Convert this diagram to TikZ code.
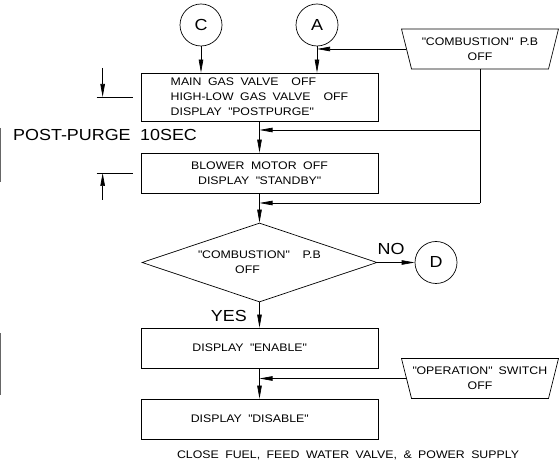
\documentclass[tikz,border=0pt]{standalone}
\usepackage{fontspec}
\setmainfont{Liberation Sans}[FakeStretch=1.12,WordSpace=1.9]
\usetikzlibrary{shapes.geometric,arrows.meta}
\newcommand{\qt}[1]{\textquotedbl#1\textquotedbl}
\tikzset{
  line/.style={line width=0.7bp},
  flow/.style={line, -{Triangle[length=13bp,width=4.5bp]}},
  txt/.style={font=\fontsize{11bp}{15bp}\selectfont},
  biglabel/.style={font=\fontsize{16bp}{18bp}\selectfont, inner sep=0pt},
  process/.style={draw, line, txt, rectangle, minimum width=237bp, minimum height=40bp, inner sep=2bp, align=center},
  decision/.style={draw, line, txt, diamond, aspect=3, minimum width=235bp, minimum height=79bp, inner sep=0pt, align=center},
  connector/.style={draw, line, biglabel, circle, minimum size=42bp},
  manual/.style={draw, line, txt, trapezium, trapezium left angle=112, trapezium right angle=112,
    trapezium stretches body, minimum width=157bp, minimum height=40bp, inner sep=1bp, align=center},
}
\begin{document}
\begin{tikzpicture}[x=1bp,y=1bp]
  \useasboundingbox (0,0) rectangle (560,468);
  % connectors and inputs
  \node[connector] (C) at (201,443) {C};
  \node[connector] (A) at (317,443) {A};
  \node[manual] (comb) at (480,419) {\qt{COMBUSTION} P.B\\OFF};
  % process steps
  \node[process, minimum height=48bp, align=left] (box1) at (259.5,371)
    {MAIN GAS VALVE~~OFF\\HIGH-LOW GAS VALVE~~OFF\\DISPLAY \qt{POSTPURGE}};
  \node[process] (box2) at (259.5,295) {BLOWER MOTOR OFF\\DISPLAY \qt{STANDBY}};
  \node[decision] (dia) at (259.5,205.5) {\qt{COMBUSTION}~~P.B\\OFF\hspace*{24bp}};
  \node[connector] (D) at (436,205.5) {D};
  \node[process] (box3) at (259.5,120) {DISPLAY \qt{ENABLE}\hspace*{20bp}};
  \node[process] (box4) at (259.5,49) {DISPLAY \qt{DISABLE}\hspace*{20bp}};
  \node[manual] (oper) at (480,89.5) {\qt{OPERATION} SWITCH\\OFF};
  % labels
  \node[biglabel, anchor=west] (post) at (13,333) {POST-PURGE 10SEC};
  \node[biglabel] (no) at (391,219) {NO};
  \node[biglabel, anchor=east] (yes) at (247,152) {YES};
  \node[txt] (close) at (348,13) {CLOSE FUEL, FEED WATER VALVE, \& POWER SUPPLY};
  % junctions
  \coordinate (purge) at (259.5,338);
  \coordinate (standby) at (259.5,265);
  % flow lines
  \draw[flow] (C) -- (C |- box1.north);
  \draw[flow] (A) -- (A |- box1.north);
  \draw[flow] (comb.west) -- (A |- comb.west);
  \draw[flow] (box1) -- (box2);
  \draw[line] (comb.south) -- (comb.south |- standby);
  \draw[flow] (comb.south |- purge) -- (purge);
  \draw[flow] (comb.south |- standby) -- (standby);
  \draw[flow] (box2) -- (dia);
  \draw[flow] (dia) -- (D);
  \draw[flow] (dia) -- (box3);
  \draw[flow] (box3) -- (box4);
  \draw[flow] (oper.west) -- (box3.south |- oper.west);
  % time marks
  \draw[flow] ([xshift=-38bp,yshift=29bp]box1.west) -- ([xshift=-38bp]box1.west);
  \draw[line] ([xshift=-44bp]box1.west) -- ([xshift=-8bp]box1.west);
  \draw[flow] ([xshift=-38bp,yshift=-27bp]box2.west) -- ([xshift=-38bp]box2.west);
  \draw[line] ([xshift=-44bp]box2.west) -- ([xshift=-8bp]box2.west);
  \draw[line, black!60] (0.5,340) -- (0.5,286);
  \draw[line, black!60] (0.5,135) -- (0.5,73);
\end{tikzpicture}
\end{document}
